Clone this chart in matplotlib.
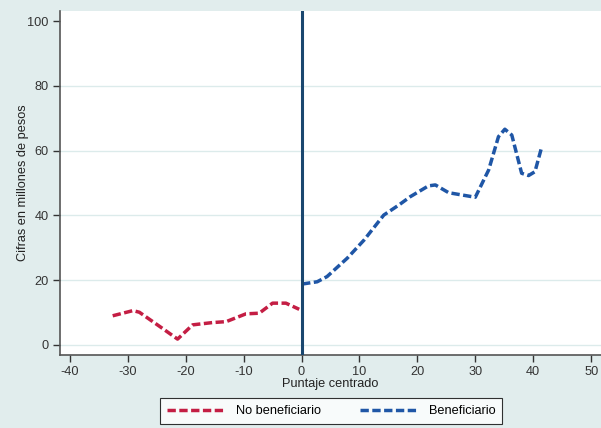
import numpy as np
import matplotlib.pyplot as plt

plt.rcParams['font.family'] = ['Liberation Sans', 'DejaVu Sans']

# No beneficiario (puntaje < 0)
x_nob = [-32.6, -29.1, -28.0, -24.0, -21.4, -18.8, -15.4, -13.0, -9.6, -7.3, -5.0, -2.7, -0.4]
y_nob = [9.0, 10.6, 10.1, 5.1, 1.8, 6.2, 6.9, 7.2, 9.6, 9.8, 12.9, 12.9, 11.0]

# Beneficiario (puntaje >= 0)
x_ben = [0.1, 2.7, 4.4, 7.9, 10.8, 14.2, 16.8, 18.8, 21.9, 23.1, 25.4, 30.0, 32.3,
         34.0, 35.1, 36.3, 38.0, 39.2, 40.3, 41.4]
y_ben = [18.8, 19.5, 21.1, 26.8, 32.4, 40.1, 43.2, 45.8, 49.1, 49.4, 47.0, 45.6, 54.0,
         64.3, 66.6, 64.8, 53.0, 52.3, 53.5, 60.7]

xticks = [-40, -30, -20, -10, 0, 10, 20, 30, 40, 50]
yticks = [0, 20, 40, 60, 80, 100]

bg = '#e1eded'
red = '#c41e44'
blue = '#1f56a6'
fs = 9.2

fig = plt.figure(figsize=(6.01, 4.28), dpi=100, facecolor=bg)
ax = fig.add_axes([0.0998, 0.1706, 0.9002, 0.8037])
ax.set_facecolor('white')

for yv in yticks[:-1]:
    ax.axhline(yv, color='#dcebeb', lw=1.0, zorder=0)

ax.plot(x_nob, y_nob, color=red, lw=2.5, dashes=(2.4, 1.0), label='No beneficiario')
ax.plot(x_ben, y_ben, color=blue, lw=2.5, dashes=(2.4, 1.0), label='Beneficiario')
ax.axvline(0, color='#1a476f', lw=2.2, zorder=3)

ax.set_xlim(-41.7, 51.7)
ax.set_ylim(-3.1, 103.1)
ax.set_xticks(xticks)
ax.set_yticks(yticks)
ax.set_xticklabels([str(v) for v in xticks])
ax.set_yticklabels([str(v) for v in yticks], rotation=0)
ax.tick_params(direction='out', length=5, width=1, colors='#333333', labelsize=fs, pad=3)

for s in ['top', 'right']:
    ax.spines[s].set_visible(False)
for s in ['left', 'bottom']:
    ax.spines[s].set_color('#555555')
    ax.spines[s].set_linewidth(1.2)

ax.set_xlabel('Puntaje centrado', fontsize=fs, color='#222222', labelpad=0)
ax.set_ylabel('Cifras en millones de pesos', fontsize=fs, color='#222222', labelpad=-1)

leg = fig.legend(loc='center', bbox_to_anchor=(0.551, 0.0397), ncol=2, fontsize=fs,
                 frameon=True, fancybox=False, handlelength=4.6, columnspacing=3.0,
                 borderpad=0.55, handletextpad=0.8)
leg.get_frame().set_edgecolor('black')
leg.get_frame().set_linewidth(0.8)
leg.get_frame().set_facecolor('white')

fig.savefig('out.png', dpi=100, facecolor=bg)
